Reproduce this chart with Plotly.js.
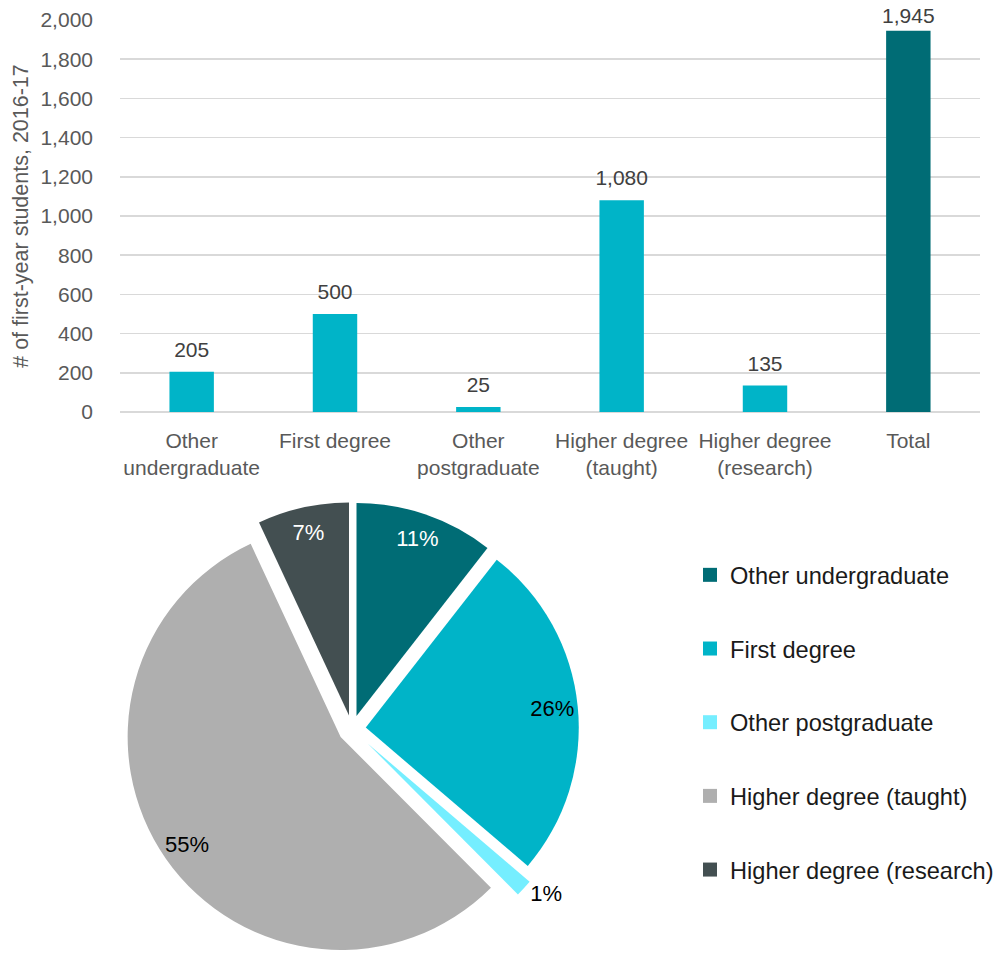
<!DOCTYPE html>
<html>
<head>
<meta charset="utf-8">
<script src="https://cdn.plot.ly/plotly-3.0.1.min.js"></script>
<style>
html, body { margin: 0; padding: 0; overflow: hidden; background: #fff; }
#chart { width: 1060px; height: 980px; }
</style>
</head>
<body>
<div id="chart"></div>
<script>
// ---- data ----
const categories = ["Other undergraduate", "First degree", "Other postgraduate", "Higher degree (taught)", "Higher degree (research)", "Total"];
const tickLabels = ["Other<br>undergraduate", "First degree", "Other<br>postgraduate", "Higher degree<br>(taught)", "Higher degree<br>(research)", "Total"];
const barValues = [205, 500, 25, 1080, 135, 1945];
const barColors = ["#00B4C8", "#00B4C8", "#00B4C8", "#00B4C8", "#00B4C8", "#006C75"];

const pieCategories = ["Other undergraduate", "First degree", "Other postgraduate", "Higher degree (taught)", "Higher degree (research)"];
const pieValues = [205, 500, 25, 1080, 135];
const pieLabels = ["11%", "26%", "1%", "55%", "7%"];
const pieColors = ["#006C75", "#00B4C8", "#75EEFF", "#AFAFAF", "#434F51"];
const pieTextColors = ["#FFFFFF", "#000000", "#000000", "#000000", "#FFFFFF"];
const piePull = [0.065, 0.065, 0.1, 0.065, 0.065];
const pieTextPos = ["inside", "inside", "outside", "inside", "inside"];

const FONT = "Liberation Sans, Arial, sans-serif";
// paper is a bit wider/taller than the 997x953 window so that the legend
// never pushes the margins; everything visible is laid out in window pixels
const W = 1060, H = 980;
const pieDomain = { x: [117.7 / W, 586.3 / W], y: [1 - 963.3 / H, 1 - 494.7 / H] };

const traces = [];
traces.push({
  type: "bar",
  x: categories,
  y: barValues,
  marker: { color: barColors, line: { width: 0 } },
  width: 0.31,
  textinfo: "none",
  showlegend: false,
  hoverinfo: "x+y"
});

// value labels above the bars (the tallest label sits a little closer, as in the original)
traces.push({
  type: "scatter",
  mode: "markers+text",
  x: categories,
  y: barValues,
  marker: { size: [14, 14, 14, 14, 14, 2], opacity: 0, color: "#ffffff" },
  text: barValues.map(v => v.toLocaleString("en-US")),
  textposition: "top center",
  textfont: { family: FONT, size: 21, color: "#404040" },
  cliponaxis: false,
  showlegend: false,
  hoverinfo: "skip"
});

// the pie slices
traces.push({
  type: "pie",
  labels: pieCategories,
  values: pieValues,
  sort: false,
  direction: "clockwise",
  rotation: 0,
  pull: piePull,
  marker: { colors: pieColors, line: { width: 0 } },
  textinfo: "none",
  showlegend: false,
  domain: pieDomain
});

// same pie, transparent ring, carrying the percentage labels near the rim
traces.push({
  type: "pie",
  labels: pieCategories,
  values: pieValues,
  sort: false,
  direction: "clockwise",
  rotation: 0,
  pull: piePull,
  hole: 0.76,
  marker: { colors: pieColors.map(() => "rgba(0,0,0,0)"), line: { width: 0 } },
  text: pieLabels,
  textinfo: "text",
  textposition: pieTextPos,
  insidetextorientation: "horizontal",
  insidetextfont: { family: FONT, size: 22, color: pieTextColors },
  outsidetextfont: { family: FONT, size: 22, color: "#000000" },
  showlegend: false,
  domain: pieDomain
});

// legend entries (one per pie category)
pieCategories.forEach((c, i) => {
  traces.push({
    type: "scatter",
    mode: "markers",
    x: [null], y: [null],
    name: c,
    legendgroup: "g" + i,
    marker: { symbol: "square", size: 14, color: pieColors[i] },
    showlegend: true,
    hoverinfo: "skip"
  });
});

const layout = {
  width: W, height: H,
  margin: { l: 0, r: 0, t: 0, b: 0 },
  paper_bgcolor: "#ffffff",
  plot_bgcolor: "#ffffff",
  font: { family: FONT, color: "#595959" },
  xaxis: {
    domain: [120 / W, 980 / W],
    range: [-0.5, 5.5],
    type: "category",
    tickvals: categories,
    ticktext: tickLabels,
    showgrid: false,
    showline: false,
    zeroline: false,
    ticks: "",
    ticklabelstandoff: 14,
    tickfont: { family: FONT, size: 21, color: "#595959" },
    fixedrange: true
  },
  yaxis: {
    domain: [1 - 412 / H, 1 - 20 / H],
    range: [0, 2000],
    dtick: 200,
    tickformat: ",",
    showgrid: true,
    gridcolor: "#D9D9D9",
    gridwidth: 1.5,
    zeroline: true,
    zerolinecolor: "#D9D9D9",
    zerolinewidth: 1.5,
    showline: false,
    ticks: "",
    ticklabelstandoff: 26,
    tickfont: { family: FONT, size: 21, color: "#595959" },
    title: { text: "# of first-year students, 2016-17", font: { family: FONT, size: 21.5, color: "#595959" }, standoff: 5 },
    automargin: false,
    fixedrange: true
  },
  showlegend: true,
  legend: {
    x: 690 / W, xanchor: "left",
    y: 1 - 553 / H, yanchor: "top",
    font: { family: FONT, size: 23.6, color: "#1a1a1a" },
    tracegroupgap: 40,
    bgcolor: "rgba(0,0,0,0)"
  }
};

Plotly.newPlot("chart", traces, layout, { displayModeBar: false, staticPlot: true });
</script>
</body>
</html>
